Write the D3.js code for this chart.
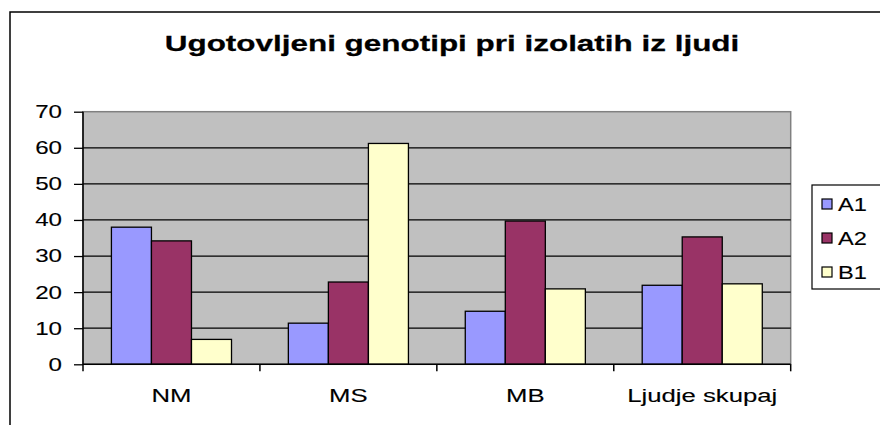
<!DOCTYPE html>
<html>
<head>
<meta charset="utf-8">
<script src="https://cdn.jsdelivr.net/npm/d3@7"></script>
<style>
  html, body { margin: 0; padding: 0; background: #fff; }
  svg { display: block; font-family: Arial, "Liberation Sans", sans-serif; }
</style>
</head>
<body>
<svg id="chart" width="880" height="425"></svg>
<script>
const title = "Ugotovljeni genotipi pri izolatih iz ljudi";
const categories = ["NM", "MS", "MB", "Ljudje skupaj"];
const seriesNames = ["A1", "A2", "B1"];
const seriesColors = ["#9999FF", "#993366", "#FFFFCC"];
const valuesA1 = [38.0, 11.4, 14.7, 21.9];
const valuesA2 = [34.2, 22.8, 39.7, 35.3];
const valuesB1 = [6.9, 61.2, 20.9, 22.3];
const yTicks = [0, 10, 20, 30, 40, 50, 60, 70];

const seriesValues = [valuesA1, valuesA2, valuesB1];
const data = categories.map((c, i) => ({
  cat: c,
  vals: seriesNames.map((s, j) => ({ s, v: seriesValues[j][i], color: seriesColors[j] }))
}));

const svg = d3.select("#chart");

// the original chart was rendered horizontally stretched; mimic with scaleX
function stretchedText(parent, x, y, str, opts) {
  const g = parent.append("g").attr("transform", `translate(${x},${y})`);
  return g.append("text")
    .attr("transform", `scale(${opts.sx},1)`)
    .attr("font-size", opts.size)
    .attr("font-weight", opts.weight || "normal")
    .attr("text-anchor", opts.anchor || "start")
    .attr("fill", "#000")
    .attr("stroke", "#000")
    .attr("stroke-width", opts.sw == null ? 0.12 : opts.sw)
    .text(str);
}

// outer chart frame (extends past right/bottom edge)
svg.append("rect").attr("x", 10).attr("y", 12).attr("width", 900).attr("height", 500)
  .attr("fill", "none").attr("stroke", "#000").attr("stroke-width", 1.5);

const plot = { left: 83, right: 790.7, top: 111.7, bottom: 364.3 };

const x = d3.scaleBand().domain(categories).range([plot.left, plot.right]).paddingInner(0).paddingOuter(0);
const xInner = d3.scaleBand().domain(seriesNames).range([0, x.bandwidth()]).paddingInner(0).paddingOuter(0.71);
const y = d3.scaleLinear().domain([0, 70]).range([plot.bottom, plot.top]);

// plot area
svg.append("rect").attr("x", plot.left).attr("y", plot.top)
  .attr("width", plot.right - plot.left).attr("height", plot.bottom - plot.top)
  .attr("fill", "#C0C0C0").attr("stroke", "#808080").attr("stroke-width", 1.5);

// gridlines
svg.append("g").selectAll("line").data(yTicks.filter(d => d > 0 && d < 70)).join("line")
  .attr("x1", plot.left).attr("x2", plot.right)
  .attr("y1", d => y(d)).attr("y2", d => y(d))
  .attr("stroke", "#000").attr("stroke-width", 1.2);

// bars
const groups = svg.append("g").selectAll("g").data(data).join("g")
  .attr("transform", d => `translate(${x(d.cat)},0)`);
groups.selectAll("rect").data(d => d.vals).join("rect")
  .attr("x", d => xInner(d.s))
  .attr("width", xInner.bandwidth())
  .attr("y", d => y(d.v))
  .attr("height", d => y(0) - y(d.v))
  .attr("fill", d => d.color)
  .attr("stroke", "#000").attr("stroke-width", 1.3);

// y axis
const yAxis = svg.append("g").attr("transform", `translate(${plot.left},0)`)
  .call(d3.axisLeft(y).tickValues(yTicks).tickSize(9).tickFormat(""));
yAxis.select(".domain").attr("stroke", "#000").attr("stroke-width", 1.5).attr("d", `M0,${plot.top}V${plot.bottom}`);
yAxis.selectAll(".tick line").attr("stroke", "#000").attr("stroke-width", 1.3);
yTicks.forEach(t => {
  stretchedText(svg, 62, y(t) + 6.4, String(t), { size: 17.5, anchor: "end", sx: 1.38 });
});

// x axis
const xAxis = svg.append("g").attr("transform", `translate(0,${plot.bottom})`)
  .call(d3.axisBottom(x).tickSize(0).tickFormat(""));
xAxis.select(".domain").attr("stroke", "#000").attr("stroke-width", 1.5).attr("d", `M${plot.left},0H${plot.right}`);
const bounds = categories.map(c => x(c)).concat([plot.right]);
xAxis.append("g").selectAll("line").data(bounds).join("line")
  .attr("x1", d => d).attr("x2", d => d).attr("y1", 0).attr("y2", 7)
  .attr("stroke", "#000").attr("stroke-width", 1.5);
categories.forEach(c => {
  stretchedText(svg, x(c) + x.bandwidth() / 2, 402, c, { size: 17.5, anchor: "middle", sx: 1.47 });
});

// title
stretchedText(svg, 452, 51, title, { size: 22, weight: "bold", anchor: "middle", sx: 1.43, sw: 0.25 });

// legend
const leg = svg.append("g");
leg.append("rect").attr("x", 812).attr("y", 185).attr("width", 100).attr("height", 104)
  .attr("fill", "#fff").attr("stroke", "#000").attr("stroke-width", 1.2);
seriesNames.forEach((s, i) => {
  const cy = 204 + i * 34;
  leg.append("rect").attr("x", 822).attr("y", cy - 5).attr("width", 10).attr("height", 10)
    .attr("fill", seriesColors[i]).attr("stroke", "#000").attr("stroke-width", 1.2);
  stretchedText(leg, 838, cy + 6.5, s, { size: 17.5, sx: 1.35 });
});
</script>
</body>
</html>
